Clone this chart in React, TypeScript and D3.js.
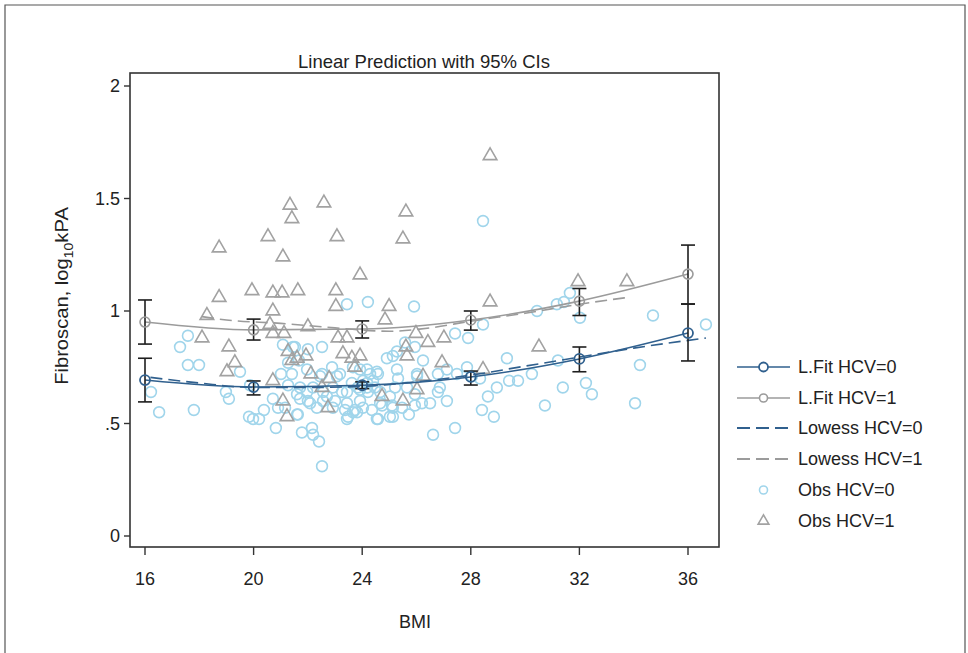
import React from "react";
import * as d3 from "d3";

// ---- Data ----
const xTicks = [16, 20, 24, 28, 32, 36];
const yTicks = [0, 0.5, 1, 1.5, 2];
const yTickLabels = ["0", ".5", "1", "1.5", "2"];

const fitBMI = [16, 20, 24, 28, 32, 36];
const fitHCV0 = [0.693, 0.662, 0.67, 0.707, 0.787, 0.902];
const fitHCV0Lo = [0.596, 0.627, 0.655, 0.671, 0.73, 0.778];
const fitHCV0Hi = [0.79, 0.689, 0.685, 0.733, 0.84, 1.031];
const fitHCV1 = [0.951, 0.916, 0.92, 0.96, 1.044, 1.164];
const fitHCV1Lo = [0.853, 0.871, 0.88, 0.915, 0.98, 1.031];
const fitHCV1Hi = [1.049, 0.964, 0.956, 1.0, 1.1, 1.293];

const lowess0X = [16.2, 18, 20, 22, 24, 26, 28, 30, 32, 34, 36.66];
const lowess0Y = [0.705, 0.68, 0.66, 0.66, 0.665, 0.685, 0.715, 0.755, 0.795, 0.835, 0.88];
const lowess1X = [18.1, 19, 21, 23, 25, 26.5, 28, 30, 32, 33.75];
const lowess1Y = [0.975, 0.96, 0.945, 0.925, 0.91, 0.925, 0.955, 0.99, 1.03, 1.06];

const obs0BMI = [17.58,17.29,17.58,17.99,19.5,16.22,16.52,17.8,18.98,19.09,19.87,19.83,19.98,20.2,20.38,20.82,20.71,20.9,21.08,21.27,21.01,21.45,22.0,22.52,21.67,21.41,21.27,21.71,21.97,22.19,22.89,23.07,22.45,22.7,22.92,21.16,21.6,21.78,22.15,22.19,22.41,22.52,21.71,22.0,22.33,22.92,23.26,23.48,23.66,23.44,23.92,24.03,24.29,24.58,24.18,23.66,23.84,24.18,24.47,24.66,25.02,25.13,24.58,25.02,25.72,25.94,25.28,25.13,24.91,25.28,25.32,26.02,25.94,25.65,21.97,22.52,23.18,23.92,24.54,24.4,23.62,24.18,23.92,23.44,24.21,24.66,25.21,21.6,22.56,22.08,22.56,23.0,23.37,23.73,24.03,24.36,24.73,25.1,25.47,23.44,23.81,24.54,25.13,21.63,25.91,27.42,27.9,28.45,30.44,31.17,29.33,30.25,29.41,29.74,28.96,28.63,31.21,31.39,30.73,28.41,28.85,27.42,26.61,27.86,28.34,28.04,27.12,26.79,27.12,26.5,26.2,25.94,25.58,26.02,26.79,27.49,26.86,31.65,31.43,32.02,34.71,36.66,34.23,32.24,32.46,34.05,28.45,23.44,24.21,21.52,26.24];
const obs0Val = [0.89,0.84,0.76,0.76,0.73,0.64,0.55,0.56,0.64,0.61,0.67,0.53,0.52,0.52,0.56,0.48,0.61,0.57,0.85,0.77,0.72,0.84,0.83,0.84,0.78,0.72,0.67,0.66,0.64,0.66,0.75,0.71,0.71,0.62,0.66,0.57,0.54,0.46,0.48,0.45,0.42,0.31,0.61,0.6,0.57,0.57,0.64,0.53,0.55,0.59,0.6,0.69,0.72,0.72,0.74,0.75,0.66,0.66,0.66,0.59,0.62,0.57,0.52,0.53,0.54,0.58,0.82,0.8,0.79,0.74,0.7,0.72,0.63,0.66,0.74,0.72,0.72,0.74,0.73,0.69,0.68,0.68,0.65,0.64,0.64,0.64,0.66,0.63,0.64,0.59,0.6,0.6,0.56,0.56,0.57,0.56,0.58,0.58,0.57,0.52,0.55,0.52,0.53,0.54,1.02,0.9,0.88,0.94,1.0,1.03,0.79,0.72,0.69,0.69,0.66,0.62,0.78,0.66,0.58,0.56,0.53,0.48,0.45,0.75,0.7,0.71,0.74,0.64,0.6,0.59,0.59,0.84,0.86,0.71,0.72,0.72,0.66,1.08,1.04,0.97,0.98,0.94,0.76,0.68,0.63,0.59,1.4,1.03,1.04,0.84,0.78];

const obs1BMI = [28.71,18.73,22.59,21.34,21.41,20.53,23.07,25.61,25.5,21.08,23.92,19.94,20.71,21.05,21.63,23.03,18.73,23.03,24.99,24.84,20.71,18.28,20.6,20.71,21.12,22.0,18.1,19.09,23.11,23.44,25.61,25.98,19.31,19.02,21.27,21.41,21.6,21.93,22.11,22.78,22.52,20.71,21.08,21.23,22.74,23.29,23.62,23.92,23.73,24.73,25.5,25.65,26.42,27.01,26.94,28.45,26.24,26.02,30.51,28.71,31.95,33.75];
const obs1Val = [1.69,1.28,1.48,1.47,1.41,1.33,1.33,1.44,1.32,1.24,1.16,1.09,1.08,1.08,1.09,1.09,1.06,1.02,1.02,0.96,1.0,0.98,0.94,0.9,0.9,0.93,0.88,0.84,0.88,0.88,0.84,0.9,0.77,0.73,0.82,0.78,0.79,0.8,0.72,0.7,0.66,0.69,0.6,0.53,0.57,0.81,0.79,0.8,0.75,0.62,0.6,0.8,0.86,0.88,0.77,0.74,0.71,0.65,0.84,1.04,1.13,1.13];

const legendLabels = ["L.Fit HCV=0", "L.Fit HCV=1", "Lowess HCV=0", "Lowess HCV=1", "Obs HCV=0", "Obs HCV=1"];

// ---- Styles ----
const W = 968;
const H = 653;
const plot = { left: 130, right: 719, top: 73, bottom: 547 };
const DARK_BLUE = "#30608e";
const GRAY = "#9b9b9b";
const LIGHT_BLUE = "#a0d5eb";
const TRI_GRAY = "#a2a2a2";
const BLACK = "#1e1e1e";
const FONT = "'Liberation Sans', Arial, Helvetica, sans-serif";
const TXT = "#222";

export default function App() {
  const x = d3.scaleLinear().domain([16, 36]).range([145, 688]);
  const y = d3.scaleLinear().domain([0, 2]).range([536, 86]);

  const fitLine = d3
    .line<[number, number]>()
    .x((d) => x(d[0]))
    .y((d) => y(d[1]))
    .curve(d3.curveMonotoneX);

  const fit0Pts: [number, number][] = fitBMI.map((b, i) => [b, fitHCV0[i]]);
  const fit1Pts: [number, number][] = fitBMI.map((b, i) => [b, fitHCV1[i]]);
  const low0Pts: [number, number][] = lowess0X.map((b, i) => [b, lowess0Y[i]]);
  const low1Pts: [number, number][] = lowess1X.map((b, i) => [b, lowess1Y[i]]);

  const tri = d3.symbol().type(d3.symbolTriangle).size(80)() as string;

  const cap = 7;
  const errBars = (lo: number[], hi: number[], key: string) =>
    fitBMI.map((b, i) => (
      <g key={key + i} stroke={BLACK} strokeWidth={1.6} fill="none">
        <line x1={x(b)} x2={x(b)} y1={y(lo[i])} y2={y(hi[i])} />
        <line x1={x(b) - cap} x2={x(b) + cap} y1={y(lo[i])} y2={y(lo[i])} />
        <line x1={x(b) - cap} x2={x(b) + cap} y1={y(hi[i])} y2={y(hi[i])} />
      </g>
    ));

  const legendRows = [367, 398, 428, 459, 490, 521];
  const lgX0 = 737;
  const lgX1 = 790;
  const lgMid = (lgX0 + lgX1) / 2;

  return (
    <svg
      width={W}
      height={H}
      style={{ position: "absolute", left: 0, top: 0, background: "#fff" }}
      fontFamily={FONT}
    >
      <rect x={0} y={0} width={W} height={H} fill="#fff" />
      {/* outer frame */}
      <path d={`M5,${H} V5 H965 V${H}`} fill="none" stroke="#555" strokeWidth={1.2} />

      {/* title */}
      <text x={424} y={68} textAnchor="middle" fontSize={18.5} fill={TXT}>
        Linear Prediction with 95% CIs
      </text>

      {/* observations HCV=0 */}
      <g fill="none" stroke={LIGHT_BLUE} strokeWidth={1.6}>
        {obs0BMI.map((b, i) => (
          <circle key={"o0" + i} cx={x(b)} cy={y(obs0Val[i])} r={5.4} />
        ))}
      </g>
      {/* observations HCV=1 */}
      <g fill="none" stroke={TRI_GRAY} strokeWidth={1.6}>
        {obs1BMI.map((b, i) => (
          <path key={"o1" + i} d={tri} transform={`translate(${x(b)},${y(obs1Val[i])})`} />
        ))}
      </g>

      {/* lowess */}
      <path d={fitLine(low1Pts) || ""} fill="none" stroke={GRAY} strokeWidth={1.6} strokeDasharray="12,6" />
      <path d={fitLine(low0Pts) || ""} fill="none" stroke={DARK_BLUE} strokeWidth={1.6} strokeDasharray="12,6" />

      {/* fit lines */}
      <path d={fitLine(fit1Pts) || ""} fill="none" stroke={GRAY} strokeWidth={1.6} />
      <path d={fitLine(fit0Pts) || ""} fill="none" stroke={DARK_BLUE} strokeWidth={1.6} />

      {/* CI bars */}
      {errBars(fitHCV1Lo, fitHCV1Hi, "e1")}
      {errBars(fitHCV0Lo, fitHCV0Hi, "e0")}

      {/* fit markers */}
      <g fill="none" stroke={GRAY} strokeWidth={1.6}>
        {fit1Pts.map((d, i) => (
          <circle key={"f1" + i} cx={x(d[0])} cy={y(d[1])} r={5} />
        ))}
      </g>
      <g fill="none" stroke={DARK_BLUE} strokeWidth={1.8}>
        {fit0Pts.map((d, i) => (
          <circle key={"f0" + i} cx={x(d[0])} cy={y(d[1])} r={5} />
        ))}
      </g>

      {/* plot frame */}
      <rect
        x={plot.left}
        y={plot.top}
        width={plot.right - plot.left}
        height={plot.bottom - plot.top}
        fill="none"
        stroke="#333"
        strokeWidth={1.6}
      />

      {/* y axis */}
      {yTicks.map((t, i) => (
        <g key={"yt" + i}>
          <line x1={plot.left - 6} x2={plot.left} y1={y(t)} y2={y(t)} stroke="#333" strokeWidth={1.4} />
          <text x={plot.left - 10} y={y(t)} dy="0.36em" textAnchor="end" fontSize={18} fill={TXT}>
            {yTickLabels[i]}
          </text>
        </g>
      ))}
      {/* x axis */}
      {xTicks.map((t) => (
        <g key={"xt" + t}>
          <line x1={x(t)} x2={x(t)} y1={plot.bottom} y2={plot.bottom + 8} stroke="#333" strokeWidth={1.4} />
          <text x={x(t)} y={585} textAnchor="middle" fontSize={18} fill={TXT}>
            {t}
          </text>
        </g>
      ))}

      <text x={415} y={628} textAnchor="middle" fontSize={18} fill={TXT}>
        BMI
      </text>
      <text
        transform={`translate(68,296) scale(1,1.12) rotate(-90)`}
        textAnchor="middle"
        fontSize={18}
        fill={TXT}
      >
        Fibroscan, log
        <tspan fontSize={12.5} dy={5}>10</tspan>
        <tspan dy={-5}>kPA</tspan>
      </text>

      {/* legend */}
      <g fontSize={18} fill={TXT}>
        <line x1={lgX0} x2={lgX1} y1={legendRows[0]} y2={legendRows[0]} stroke={DARK_BLUE} strokeWidth={1.6} />
        <circle cx={lgMid} cy={legendRows[0]} r={4.5} fill="#fff" stroke={DARK_BLUE} strokeWidth={1.8} />
        <line x1={lgX0} x2={lgX1} y1={legendRows[1]} y2={legendRows[1]} stroke={GRAY} strokeWidth={1.6} />
        <circle cx={lgMid} cy={legendRows[1]} r={4} fill="#fff" stroke={GRAY} strokeWidth={1.6} />
        <line x1={lgX0} x2={lgX1} y1={legendRows[2]} y2={legendRows[2]} stroke={DARK_BLUE} strokeWidth={1.8} strokeDasharray="13,6" />
        <line x1={lgX0} x2={lgX1} y1={legendRows[3]} y2={legendRows[3]} stroke={GRAY} strokeWidth={1.8} strokeDasharray="13,6" />
        <circle cx={lgMid} cy={legendRows[4]} r={4} fill="none" stroke={LIGHT_BLUE} strokeWidth={1.6} />
        <path d={d3.symbol().type(d3.symbolTriangle).size(50)() as string} transform={`translate(${lgMid},${legendRows[5]})`} fill="none" stroke={TRI_GRAY} strokeWidth={1.6} />
        {legendLabels.map((l, i) => (
          <text key={"lg" + i} x={798} y={legendRows[i]} dy="0.36em">
            {l}
          </text>
        ))}
      </g>
    </svg>
  );
}
